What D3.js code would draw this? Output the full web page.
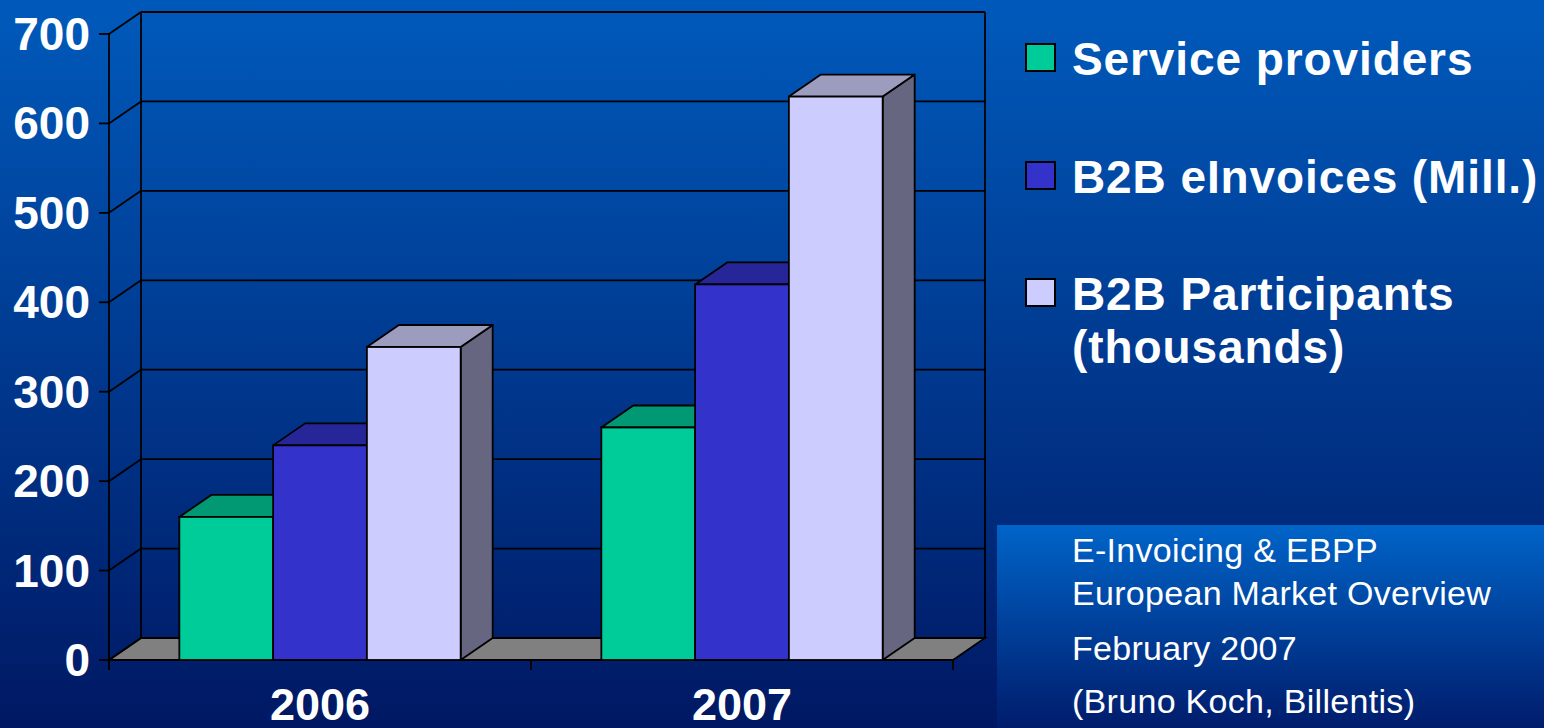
<!DOCTYPE html>
<html>
<head>
<meta charset="utf-8">
<script src="https://cdn.jsdelivr.net/npm/d3@7"></script>
<style>
body { margin: 0; overflow: hidden; background: #002070; }
text { font-family: "Liberation Sans", Arial, sans-serif; fill: #fff; }
</style>
</head>
<body>
<script>
// chart data
var years = ["2006", "2007"];
var serviceProviders = [160, 260];
var b2bInvoices = [240, 420];
var b2bParticipants = [350, 630];
var yTicks = [0, 100, 200, 300, 400, 500, 600, 700];
var legendLabels = [["Service providers"], ["B2B eInvoices (Mill.)"], ["B2B Participants", "(thousands)"]];
var noteLines = ["E-Invoicing & EBPP", "European Market Overview", "February 2007", "(Bruno Koch, Billentis)"];

var series = [serviceProviders, b2bInvoices, b2bParticipants];
// front, top, side
var colors = [
  ["#00cc99", "#009973", "#006b50"],
  ["#3333cc", "#262699", "#1f1f80"],
  ["#ccccff", "#9c9cbf", "#666680"]
];

var W = 1544, H = 728;
var dx = 32, dy = 22;   // depth of the 3d box

var svg = d3.select("body").append("svg")
  .attr("width", W).attr("height", H);

var defs = svg.append("defs");
var bg = defs.append("linearGradient").attr("id", "bg")
  .attr("x1", 0).attr("y1", 0).attr("x2", 0).attr("y2", 1);
bg.append("stop").attr("offset", "0%").attr("stop-color", "#005abb");
bg.append("stop").attr("offset", "100%").attr("stop-color", "#001863");

var box = defs.append("linearGradient").attr("id", "box")
  .attr("x1", 0).attr("y1", 0).attr("x2", 0).attr("y2", 1);
box.append("stop").attr("offset", "0%").attr("stop-color", "#0064c8");
box.append("stop").attr("offset", "100%").attr("stop-color", "#001c6c");

svg.append("rect").attr("width", W).attr("height", H).attr("fill", "url(#bg)");

// scales
var y = d3.scaleLinear().domain([0, 700]).range([660, 34]);
var x = d3.scaleBand().domain(years).range([109, 953]);
var gap = x.bandwidth() * 1.5 / 4.5 / 2;
var xs = d3.scaleBand().domain(d3.range(series.length))
  .range([gap, x.bandwidth() - gap]);

var g = svg.append("g");
var line = "#000";

// floor
g.append("polygon")
  .attr("points", [[x.range()[0], y(0)], [x.range()[1], y(0)],
    [x.range()[1] + dx, y(0) - dy], [x.range()[0] + dx, y(0) - dy]].join(" "))
  .attr("fill", "#808080").attr("stroke", line).attr("stroke-width", 1.8);

// back wall gridlines
g.selectAll(".grid").data(yTicks.slice(1)).enter().append("line")
  .attr("x1", x.range()[0] + dx).attr("x2", x.range()[1] + dx)
  .attr("y1", function(d) { return y(d) - dy; })
  .attr("y2", function(d) { return y(d) - dy; })
  .attr("stroke", line).attr("stroke-width", 1.8);

// side wall gridlines
g.selectAll(".side").data(yTicks).enter().append("line")
  .attr("x1", x.range()[0]).attr("x2", x.range()[0] + dx)
  .attr("y1", function(d) { return y(d); })
  .attr("y2", function(d) { return y(d) - dy; })
  .attr("stroke", line).attr("stroke-width", 1.8);

// wall edges
g.append("line")
  .attr("x1", x.range()[0] + dx).attr("x2", x.range()[0] + dx)
  .attr("y1", y(700) - dy).attr("y2", y(0) - dy)
  .attr("stroke", line).attr("stroke-width", 1.8);
g.append("line")
  .attr("x1", x.range()[1] + dx).attr("x2", x.range()[1] + dx)
  .attr("y1", y(700) - dy).attr("y2", y(0) - dy)
  .attr("stroke", line).attr("stroke-width", 1.8);

// front axis
g.append("line")
  .attr("x1", x.range()[0]).attr("x2", x.range()[0])
  .attr("y1", y(700)).attr("y2", y(0) + 10)
  .attr("stroke", line).attr("stroke-width", 1.8);
g.selectAll(".ytick").data(yTicks).enter().append("line")
  .attr("x1", x.range()[0] - 10).attr("x2", x.range()[0])
  .attr("y1", function(d) { return y(d); })
  .attr("y2", function(d) { return y(d); })
  .attr("stroke", line).attr("stroke-width", 1.8);
g.append("line")
  .attr("x1", x.range()[0]).attr("x2", x.range()[1])
  .attr("y1", y(0)).attr("y2", y(0))
  .attr("stroke", line).attr("stroke-width", 1.8);
g.selectAll(".xtick").data(years.concat(["end"])).enter().append("line")
  .attr("x1", function(d, i) { return x.range()[0] + i * x.bandwidth(); })
  .attr("x2", function(d, i) { return x.range()[0] + i * x.bandwidth(); })
  .attr("y1", y(0)).attr("y2", y(0) + 10)
  .attr("stroke", line).attr("stroke-width", 1.8);

// bars
years.forEach(function(yr, i) {
  series.forEach(function(s, j) {
    var x0 = x(yr) + xs(j), w = xs.bandwidth();
    var yt = y(s[i]), yb = y(0);
    var bar = g.append("g");
    bar.append("polygon")
      .attr("points", [[x0 + w, yt], [x0 + w + dx, yt - dy], [x0 + w + dx, yb - dy], [x0 + w, yb]].join(" "))
      .attr("fill", colors[j][2]).attr("stroke", line).attr("stroke-width", 1.8)
      .attr("stroke-linejoin", "round");
    bar.append("polygon")
      .attr("points", [[x0, yt], [x0 + dx, yt - dy], [x0 + w + dx, yt - dy], [x0 + w, yt]].join(" "))
      .attr("fill", colors[j][1]).attr("stroke", line).attr("stroke-width", 1.8)
      .attr("stroke-linejoin", "round");
    bar.append("rect")
      .attr("x", x0).attr("y", yt).attr("width", w).attr("height", yb - yt)
      .attr("fill", colors[j][0]).attr("stroke", line).attr("stroke-width", 1.8);
  });
});

// axis labels
g.selectAll(".ylab").data(yTicks).enter().append("text")
  .attr("x", 90).attr("y", function(d) { return y(d) + 16; })
  .attr("text-anchor", "end")
  .style("font-size", "46px").style("font-weight", "bold")
  .text(function(d) { return d; });

g.selectAll(".xlab").data(years).enter().append("text")
  .attr("x", function(d) { return x(d) + x.bandwidth() / 2; })
  .attr("y", 720)
  .attr("text-anchor", "middle")
  .style("font-size", "45px").style("font-weight", "bold")
  .text(function(d) { return d; });

// legend
var legendY = [44, 162, 279];
var leg = svg.selectAll(".leg").data(legendLabels).enter().append("g")
  .attr("transform", function(d, i) { return "translate(1026," + legendY[i] + ")"; });
leg.append("rect")
  .attr("width", 29).attr("height", 27)
  .attr("fill", function(d, i) { return colors[i][0]; })
  .attr("stroke", "#000").attr("stroke-width", 2);
leg.each(function(d) {
  var t = d3.select(this).append("text")
    .attr("x", 46).attr("y", 31)
    .style("font-size", "46px").style("font-weight", "bold")
    .style("letter-spacing", "0.9px");
  d.forEach(function(l, k) {
    t.append("tspan").attr("x", 46).attr("dy", k ? 53 : 0).text(l);
  });
});

// source note box
svg.append("rect")
  .attr("x", 997).attr("y", 525).attr("width", W - 997).attr("height", H - 525)
  .attr("fill", "url(#box)");
var noteY = [562, 605, 660, 713];
svg.selectAll(".note").data(noteLines).enter().append("text")
  .attr("x", 1072).attr("y", function(d, i) { return noteY[i]; })
  .style("font-size", "34px").style("letter-spacing", "0.3px")
  .text(function(d) { return d; });
</script>
</body>
</html>
